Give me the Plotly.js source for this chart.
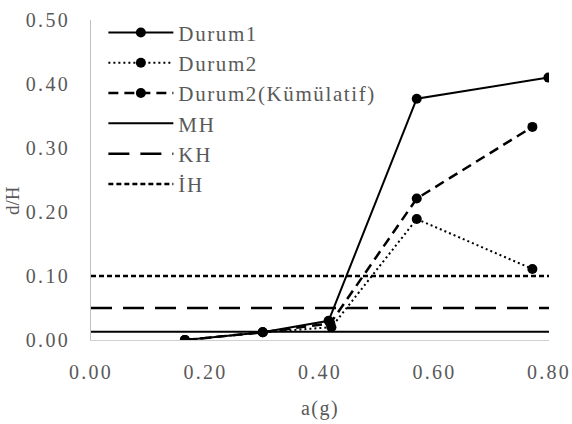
<!DOCTYPE html>
<html>
<head>
<meta charset="utf-8">
<script src="https://cdn.plot.ly/plotly-3.0.1.min.js"></script>
<style>
html,body{margin:0;padding:0;background:#fff}
.xtick text,.ytick text{letter-spacing:2.3px}
.legendtext{letter-spacing:1.6px}
.xtitle{letter-spacing:1.5px}
</style>
</head>
<body>
<div id="chart" style="width:572px;height:424px"></div>
<script>
const durum1X = [0.164, 0.30, 0.415, 0.569, 0.799];
const durum1Y = [0.000, 0.012, 0.030, 0.377, 0.410];
const durum2X = [0.164, 0.30, 0.420, 0.569, 0.771];
const durum2Y = [0.000, 0.012, 0.020, 0.189, 0.111];
const kumX = [0.164, 0.30, 0.418, 0.569, 0.771];
const kumY = [0.000, 0.012, 0.026, 0.221, 0.333];
const limitX = [0, 0.80];
const mhY = 0.013;
const khY = 0.050;
const ihY = 0.100;
const xTicks = [0, 0.2, 0.4, 0.6, 0.8];
const yTicks = [0, 0.1, 0.2, 0.3, 0.4, 0.5];

const serif = "'Liberation Serif', 'Times New Roman', serif";
const grey = '#595959';

const traces = [
  {name:'Durum1', x:durum1X, y:durum1Y, mode:'lines+markers', legendgroup:'a',
   line:{color:'#000', width:2}, marker:{color:'#000', size:10}},
  {name:'Durum2', x:durum2X, y:durum2Y, mode:'lines+markers', legendgroup:'b',
   line:{color:'#000', width:2, dash:'2px,3px'}, marker:{color:'#000', size:10}},
  {name:'Durum2(Kümülatif)', x:kumX, y:kumY, mode:'lines+markers', legendgroup:'c',
   line:{color:'#000', width:2.5, dash:'10px,6px'}, marker:{color:'#000', size:10}},
  {name:'MH', x:limitX, y:[mhY, mhY], mode:'lines', legendgroup:'d',
   line:{color:'#000', width:2}},
  {name:'KH', x:limitX, y:[khY, khY], mode:'lines', legendgroup:'e',
   line:{color:'#000', width:2.5, dash:'21px,11px'}},
  {name:'İH', x:limitX, y:[ihY, ihY], mode:'lines', legendgroup:'f',
   line:{color:'#000', width:2.5, dash:'5px,3px'}}
];

const layout = {
  width:572, height:424,
  margin:{l:91, r:23, t:16, b:84},
  paper_bgcolor:'#fff', plot_bgcolor:'#fff',
  font:{family:serif, color:grey, size:20},
  showlegend:true,
  legend:{x:0.027, y:1.024, xanchor:'left', yanchor:'top', bgcolor:'rgba(0,0,0,0)',
    font:{family:serif, size:21, color:grey}, tracegroupgap:0, itemwidth:65,
    traceorder:'grouped'},
  xaxis:{range:[0, 0.8], tickvals:xTicks, ticktext:xTicks.map(v=>v.toFixed(2)),
    showgrid:false, zeroline:false, showline:true, linecolor:'#d0d0d0', linewidth:1,
    ticks:'outside', ticklen:14, tickcolor:'rgba(0,0,0,0)',
    tickfont:{family:serif, size:20, color:grey},
    title:{text:'a(g)', font:{family:serif, size:20, color:grey}, standoff:18}},
  yaxis:{range:[0, 0.5], tickvals:yTicks, ticktext:yTicks.map(v=>v.toFixed(2)),
    showgrid:false, zeroline:false, showline:true, linecolor:'#c0c0c0', linewidth:1,
    ticks:'outside', ticklen:16, tickcolor:'rgba(0,0,0,0)',
    tickfont:{family:serif, size:20, color:grey}},
  annotations:[{text:'d/H', xref:'paper', yref:'paper', x:-0.170, y:0.435,
    xanchor:'center', yanchor:'middle', textangle:-90, showarrow:false,
    font:{family:serif, size:19, color:grey}}]
};

Plotly.newPlot('chart', traces, layout, {staticPlot:true, displayModeBar:false});
</script>
</body>
</html>
